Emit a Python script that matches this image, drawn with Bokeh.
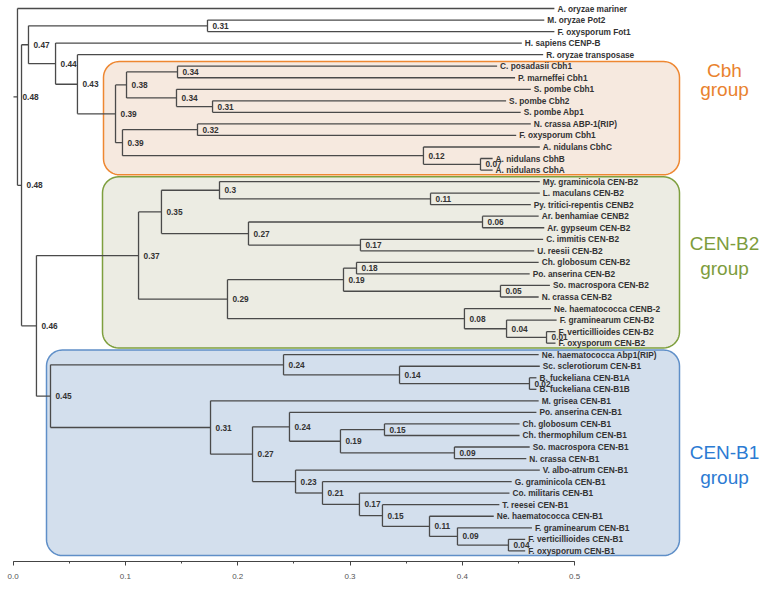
import numpy as np
from bokeh.plotting import figure
from bokeh.models import Range1d, SingleIntervalTicker, PrintfTickFormatter
from bokeh.core.properties import value
from bokeh.embed import file_html
from bokeh.resources import INLINE

# ---------------- data ----------------
leaf_names = [
    "A. oryzae mariner", "M. oryzae Pot2", "F. oxysporum Fot1", "H. sapiens CENP-B",
    "R. oryzae transposase", "C. posadasii Cbh1", "P. marneffei Cbh1", "S. pombe Cbh1",
    "S. pombe Cbh2", "S. pombe Abp1", "N. crassa ABP-1(RIP)", "F. oxysporum Cbh1",
    "A. nidulans CbhC", "A. nidulans CbhB", "A. nidulans CbhA",
    "My. graminicola CEN-B2", "L. maculans CEN-B2", "Py. tritici-repentis CENB2",
    "Ar. benhamiae CENB2", "Ar. gypseum CEN-B2", "C. immitis CEN-B2", "U. reesii CEN-B2",
    "Ch. globosum CEN-B2", "Po. anserina CEN-B2", "So. macrospora CEN-B2", "N. crassa CEN-B2",
    "Ne. haematococca CENB-2", "F. graminearum CEN-B2", "F. verticillioides CEN-B2",
    "F. oxysporum CEN-B2",
    "Ne. haematococca Abp1(RIP)", "Sc. sclerotiorum CEN-B1", "B. fuckeliana CEN-B1A",
    "B. fuckeliana CEN-B1B", "M. grisea CEN-B1", "Po. anserina CEN-B1", "Ch. globosum CEN-B1",
    "Ch. thermophilum CEN-B1", "So. macrospora CEN-B1", "N. crassa CEN-B1",
    "V. albo-atrum CEN-B1", "G. graminicola CEN-B1", "Co. militaris CEN-B1",
    "T. reesei CEN-B1", "Ne. haematococca CEN-B1", "F. graminearum CEN-B1",
    "F. verticillioides CEN-B1", "F. oxysporum CEN-B1",
]
# distance of each tip from the root (scale units)
leaf_x = [
    0.482, 0.473, 0.482, 0.453, 0.472, 0.431, 0.447, 0.461, 0.439, 0.452, 0.461, 0.448,
    0.469, 0.427, 0.427,
    0.469, 0.469, 0.461, 0.468, 0.473, 0.472, 0.464, 0.468, 0.460, 0.478, 0.468,
    0.479, 0.484, 0.483, 0.483,
    0.468, 0.469, 0.466, 0.466, 0.468, 0.466, 0.451, 0.451, 0.460, 0.457,
    0.469, 0.444, 0.442, 0.433, 0.428, 0.462, 0.456, 0.456,
]
leaf_parent = [
    0, 3, 3, 4, 5, 8, 8, 9, 10, 10, 12, 12, 13, 14, 14,
    18, 19, 19, 21, 21, 22, 22, 25, 25, 26, 26, 27, 28, 29, 29,
    31, 32, 33, 33, 34, 36, 38, 38, 39, 39, 40, 41, 42, 43, 44, 45, 46, 46,
]
# internal nodes: distance from root, parent node, label
node_x = [
    0.0039, 0.0075, 0.0137, 0.1731, 0.0378, 0.0573, 0.0912, 0.1010, 0.1464, 0.1455,
    0.1776, 0.0974, 0.1642, 0.3654, 0.4162, 0.0208, 0.1117, 0.1321, 0.1838, 0.3717,
    0.2096, 0.4180, 0.3093, 0.1909, 0.2942, 0.3058, 0.4340, 0.4019, 0.4394, 0.4750,
    0.0333, 0.2408, 0.3441, 0.4598, 0.1758, 0.2132, 0.2461, 0.2915, 0.3307, 0.3930,
    0.2515, 0.2755, 0.3084, 0.3289, 0.3708, 0.3957, 0.4411,
]
node_parent = [
    None, 0, 1, 2, 2, 4, 5, 6, 7, 7,
    9, 6, 11, 11, 13, 1, 15, 16, 17, 18,
    17, 20, 20, 16, 23, 24, 24, 23, 27, 28,
    15, 30, 31, 32, 30, 34, 35, 36, 37, 37,
    35, 40, 41, 42, 43, 44, 45,
]
node_label = [
    "0.48", "0.48", "0.47", "0.31", "0.44", "0.43", "0.39", "0.38", "0.34", "0.34",
    "0.31", "0.39", "0.32", "0.12", "0.07", "0.46", "0.37", "0.35", "0.3", "0.11",
    "0.27", "0.06", "0.17", "0.29", "0.19", "0.18", "0.05", "0.08", "0.04", "0.01",
    "0.45", "0.24", "0.14", "0.02", "0.31", "0.27", "0.24", "0.19", "0.15", "0.09",
    "0.23", "0.21", "0.17", "0.15", "0.11", "0.09", "0.04",
]
group_names = ["Cbh", "CEN-B2", "CEN-B1"]
group_first = [5, 15, 30]
group_last = [14, 29, 47]

# ---------------- layout ----------------
PX_PER_UNIT = 1123.0      # scale: pixels per distance unit
PX_PER_LEAF = 11.54       # vertical spacing of tips
X0_PX = 12.6              # pixel position of 0.0
Y0_PX = 8.0               # pixel position of first tip
FRAME_W, FRAME_H = 760, 561

def px2x(px):
    return (px - X0_PX) / PX_PER_UNIT

x_start = px2x(0)
y_top = -Y0_PX / PX_PER_LEAF

p = figure(frame_width=FRAME_W, frame_height=FRAME_H, output_backend="svg",
           toolbar_location=None, y_axis_location=None,
           x_range=Range1d(x_start, x_start + FRAME_W / PX_PER_UNIT),
           y_range=Range1d(y_top + FRAME_H / PX_PER_LEAF, y_top),
           min_border_left=0, min_border_right=0, min_border_top=0, min_border_bottom=27)
p.outline_line_color = None
p.xgrid.visible = False
p.ygrid.visible = False
p.background_fill_color = "white"
p.border_fill_color = "white"

# tree geometry: node heights are the midpoints of their children
leaf_y = list(range(len(leaf_names)))
n = len(node_x)
kids = [[] for _ in range(n)]
for i, par in enumerate(leaf_parent):
    kids[par].append(leaf_y[i])
node_y = [0.0] * n
for k in range(n - 1, -1, -1):
    node_y[k] = (min(kids[k]) + max(kids[k])) / 2.0
    if node_parent[k] is not None:
        kids[node_parent[k]].append(node_y[k])

# group boxes (rounded rectangles)
def rounded_box(xa, xb, ya, yb, r_px=16):
    rx, ry = r_px / PX_PER_UNIT, r_px / PX_PER_LEAF
    xs, ys = [], []
    corners = [((xa + rx, ya + ry), 180, 270), ((xb - rx, ya + ry), 270, 360),
               ((xb - rx, yb - ry), 0, 90), ((xa + rx, yb - ry), 90, 180)]
    for (cx, cy), a0, a1 in corners:
        t = np.radians(np.linspace(a0, a1, 12))
        xs.extend(cx + rx * np.cos(t))
        ys.extend(cy + ry * np.sin(t))
    return xs, ys

box_fill = ["#F6E9DF", "#ECECE3", "#D3DFED"]
box_line = ["#EE8731", "#7E9F3E", "#5F8FC8"]
txt_col = ["#E9822E", "#7D9C3C", "#2C7BD3"]
box_left_px = [103, 102, 46]
box_right_px = 679
gap = 0.09
for g in range(3):
    xs, ys = rounded_box(px2x(box_left_px[g]), px2x(box_right_px),
                         group_first[g] - 0.5 + gap, group_last[g] + 0.5 - gap)
    p.patch(xs, ys, fill_color=box_fill[g], line_color=box_line[g], line_width=1.5)

# branches
sx0, sy0, sx1, sy1 = [], [], [], []
for k in range(n):
    sx0.append(node_x[k]); sx1.append(node_x[k])
    sy0.append(min(kids[k])); sy1.append(max(kids[k]))
for i, par in enumerate(leaf_parent):
    sx0.append(node_x[par]); sx1.append(leaf_x[i]); sy0.append(leaf_y[i]); sy1.append(leaf_y[i])
for k in range(1, n):
    par = node_parent[k]
    sx0.append(node_x[par]); sx1.append(node_x[k]); sy0.append(node_y[k]); sy1.append(node_y[k])
sx0.append(node_x[0] - 4 / PX_PER_UNIT); sx1.append(node_x[0])
sy0.append(node_y[0]); sy1.append(node_y[0])
p.segment(sx0, sy0, sx1, sy1, line_color="#4A4A4A", line_width=1.3)

font = value("Liberation Sans")
p.text(x=leaf_x, y=leaf_y, text=leaf_names, x_offset=3, text_baseline="middle",
       text_font=font, text_font_size="8.3px", text_font_style="bold", text_color="#333333")
p.text(x=node_x, y=node_y, text=node_label, x_offset=5, text_baseline="middle",
       text_font=font, text_font_size="8.3px", text_font_style="bold", text_color="#333333")

# group titles
gx = px2x(724)
title_y = [(5.37, 7.05), (20.4, 22.55), (38.5, 40.65)]
for g in range(3):
    p.text(x=[gx, gx], y=list(title_y[g]), text=[group_names[g], "group"],
           text_align="center", text_baseline="middle", text_font=font,
           text_font_size="19px", text_color=txt_col[g])

ax = p.xaxis[0]
ax.ticker = SingleIntervalTicker(interval=0.1, num_minor_ticks=2)
ax.formatter = PrintfTickFormatter(format="%.1f")
ax.bounds = (0, 0.5)
ax.axis_line_color = "#444444"
ax.major_tick_line_color = "#444444"
ax.minor_tick_line_color = "#444444"
ax.major_tick_in = 0
ax.major_tick_out = 4
ax.minor_tick_in = 0
ax.minor_tick_out = 2
ax.major_label_standoff = 8
ax.major_label_text_font = "Liberation Sans"
ax.major_label_text_font_size = "8px"
ax.major_label_text_color = "#555555"

open("out.html", "w").write(file_html(p, INLINE))
